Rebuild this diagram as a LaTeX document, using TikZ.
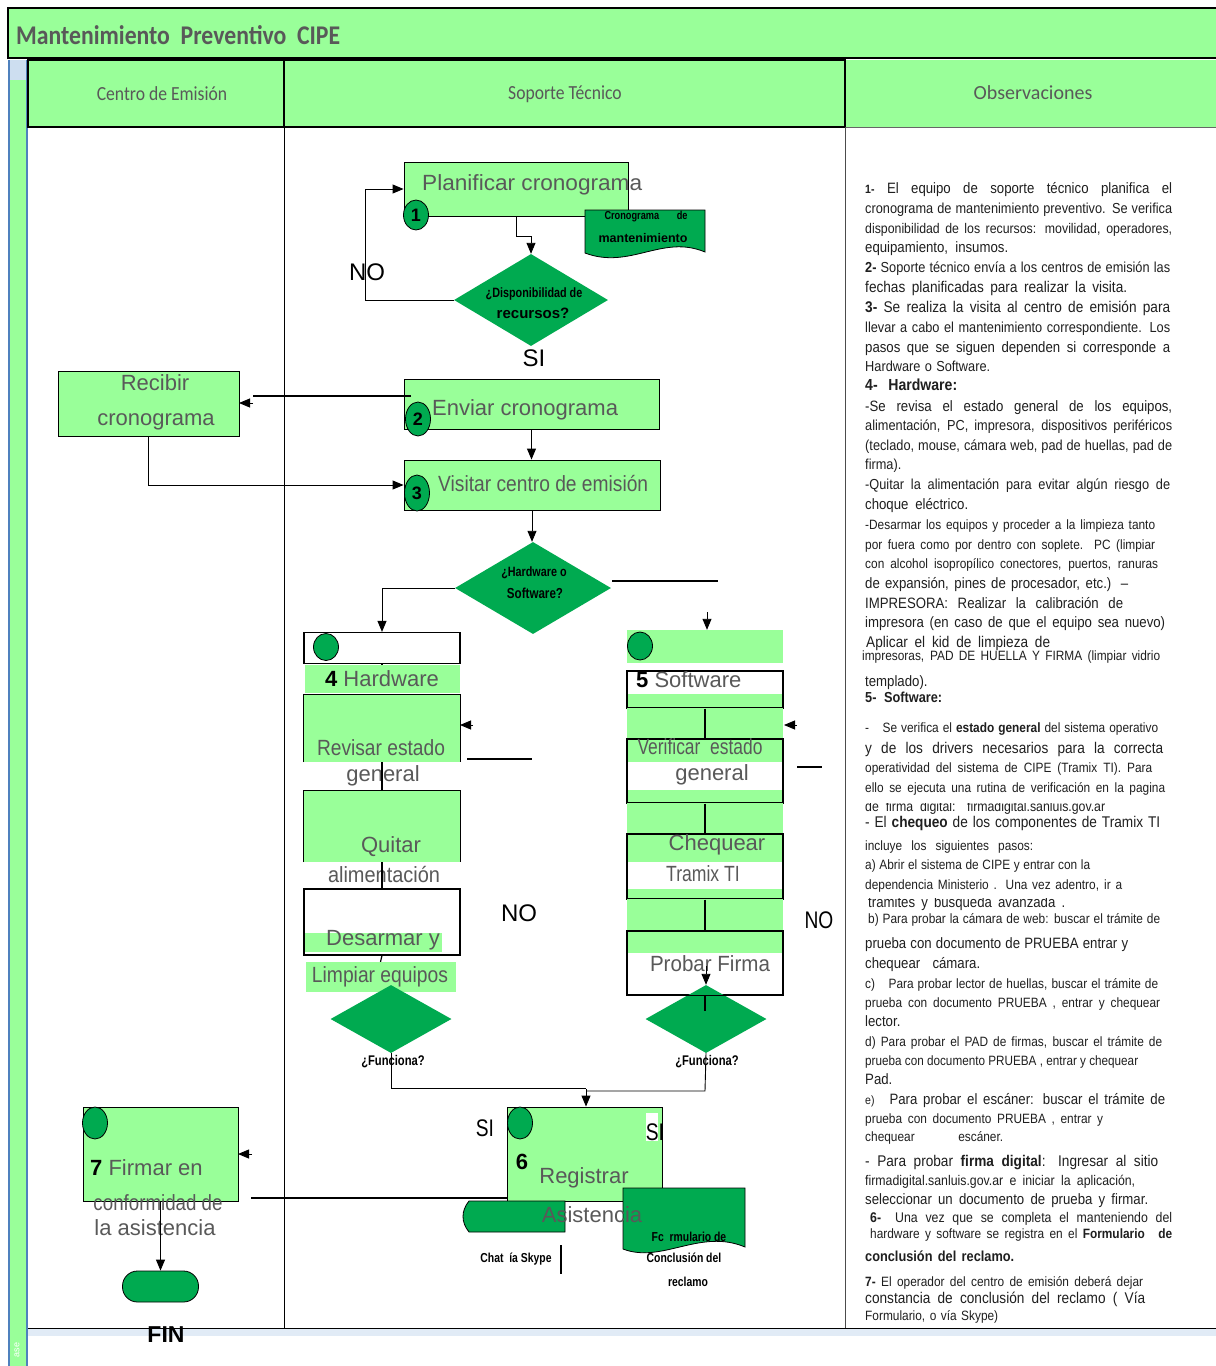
\documentclass[tikz,border=0pt]{standalone}
\usepackage{fontspec}
\usepackage{graphicx}
\setmainfont{Liberation Sans}
\newfontfamily\carl{Carlito}
\newfontfamily\carlc[FakeStretch=0.88]{Carlito}
\newfontfamily\narrowf[FakeStretch=0.80]{Liberation Sans}
\newfontfamily\obsf[FakeStretch=0.88]{Liberation Sans}
\usetikzlibrary{shapes.geometric,arrows.meta}
\definecolor{lg}{RGB}{153,255,153}
\definecolor{dg}{RGB}{0,170,80}
\definecolor{tg}{RGB}{89,89,89}
\definecolor{lb}{RGB}{79,129,189}
\definecolor{lbf}{RGB}{205,222,240}
\newsavebox\obsbox
\newdimen\obwid
\newcounter{obc}
\newcommand\justl[2]{\sbox\obsbox{#2}\ifdim\wd\obsbox>#1\relax\resizebox{#1}{\height}{#2}\else\makebox[#1][s]{#2}\fi}
\newcommand\fitw[2]{\resizebox{#1}{\height}{#2}}
\newcommand\obline[5]{\stepcounter{obc}\node[anchor=base west, inner sep=0, text=black!88, font=\obsf\fontsize{#4}{#4}\selectfont] (ob\arabic{obc}) at (#2,#1+5) {\obwid=\dimexpr#3pt-#2pt\relax\justl{\obwid}{#5}};}
\newcommand\obplain[4]{\stepcounter{obc}\node[anchor=base west, inner sep=0, text=black!88, font=\obsf\fontsize{#3}{#3}\selectfont] (ob\arabic{obc}) at (#2,#1+5) {#4};}
\begin{document}
\begin{tikzpicture}[x=1pt,y=-1pt,
 arr/.style={-{Triangle[length=11pt,width=9pt]}, line width=0.9pt},
 lbl/.style={text=tg, inner sep=0, font=\fontsize{22}{24}\selectfont},
 nlbl/.style={text=tg, inner sep=0, font=\narrowf\fontsize{22}{24}\selectfont},
 circ/.style={ellipse, draw, fill=dg, line width=0.8pt, inner sep=0, font=\bfseries\fontsize{18}{20}\selectfont},
 proc/.style={draw, fill=lg, line width=0.9pt, inner sep=0},
 wbox/.style={draw, fill=white, line width=1.2pt, inner sep=0},
 band/.style={fill=lg, inner sep=0},
 dia/.style={diamond, fill=dg, inner sep=0},
 dtxt/.style={inner sep=0, font=\narrowf\bfseries\fontsize{14}{16}\selectfont},
 big/.style={inner sep=0, font=\fontsize{24}{26}\selectfont}]
\useasboundingbox (0,0) rectangle (1216,1366);
\fill[white] (0,0) rectangle (1216,1366);

% title bar
\fill[lg] (8,8) rectangle (1216,58);
\draw[line width=2pt] (1216,8) -- (8,8) -- (8,58) -- (1216,58);
\node[anchor=west, inner sep=0, text=tg, font=\carlc\bfseries\fontsize{27}{30}\selectfont] (title) at (16,35) {\fitw{324pt}{Mantenimiento\ \ Preventivo\ \ CIPE}};

% left strip
\fill[lbf] (9,60) rectangle (27,80);
\fill[lg] (10,80) rectangle (26,1366);
\draw[lb, line width=1.6pt] (9,60) -- (9,1366) (27,60) -- (27,1366);
\node[rotate=90, text=white, inner sep=0, font=\fontsize{9}{10}\selectfont] (ase) at (17,1350) {ase};

% header row
\fill[lg] (28,60) rectangle (1216,127);
\draw[black!60] (845,127) -- (1216,127);
\draw[line width=2pt] (28,60) rectangle (845,127);
\draw[line width=2pt] (284,60) -- (284,127);
\node[text=tg, inner sep=0, font=\carlc\fontsize{20}{22}\selectfont] (h1) at (162,94) {Centro de Emisión};
\node[text=tg, inner sep=0, font=\carlc\fontsize{20}{22}\selectfont] (h2) at (565,94) {Soporte Técnico};
\node[text=tg, inner sep=0, font=\carl\fontsize{20}{22}\selectfont] (h3) at (1033,93) {Observaciones};

% lanes
\draw[line width=0.9pt] (284,127) -- (284,1328);
\draw[black!70, line width=0.8pt] (845,127) -- (845,1328);
\fill[lbf!60] (28,1329) rectangle (1216,1336);
\draw[line width=0.9pt] (28,1328) -- (1216,1328);

% ---- step 1
\node[proc, minimum width=224, minimum height=54] (plan) at (516,189) {};
\node[lbl, anchor=west] (plant) at (422,185) {\fitw{220pt}{Planificar cronograma}};
\node[circ, minimum width=25, minimum height=30] (c1) at (416,215) {1};
\draw[fill=dg, line width=0.8pt] (585,210) -- (705,210) -- (705,252) .. controls (662,234) and (630,270) .. (585,253) -- cycle;
\node[inner sep=0, font=\narrowf\bfseries\fontsize{11.5}{12}\selectfont] (doc1a) at (646,217) {\makebox[83pt][s]{Cronograma de}};
\node[inner sep=0, font=\bfseries\fontsize{12.5}{14}\selectfont] (doc1b) at (643,238) {mantenimiento};

\node[dia, minimum width=154, minimum height=92] (d1) at (531,300) {};
\node[dtxt, font=\narrowf\bfseries\fontsize{13.5}{15}\selectfont] (d1t) at (534,294) {¿Disponibilidad de};
\node[inner sep=0, font=\bfseries\fontsize{15}{16}\selectfont] (d1t2) at (533,313) {recursos?};
\draw[arr] (plan.south) -- ++(0,20) -| (d1.north);
\draw[arr] (d1.west) -- (365,300) |- (plan.west);
\node[big] (no1) at (367,272) {NO};
\node[big] (si1) at (534,358) {SI};

% ---- step 2
\node[proc, minimum width=255, minimum height=50] (env) at (531.5,404) {};
\node[lbl, anchor=west] (envt) at (432,410) {Enviar cronograma};
\node[circ, minimum width=25, minimum height=34] (c2) at (418,419) {2};
\node[proc, minimum width=181, minimum height=65] (rec) at (148.5,403.5) {};
\node[lbl] (rect1) at (155,383) {Recibir};
\node[lbl] (rect2) at (156,422) {cronograma};
\coordinate (envl) at (411,396);
\coordinate (thk) at (253,396);
\coordinate (tipa) at (253,403);
\coordinate (tipb) at (239,403);
\draw[line width=2.6pt] (envl) -- (thk);
\draw[arr] (tipa) -- (tipb);

% ---- step 3
\node[proc, minimum width=256, minimum height=50] (vis) at (532,485) {};
\node[lbl, anchor=west] (vist) at (438,484) {\fitw{210pt}{Visitar centro de emisión}};
\node[circ, minimum width=25, minimum height=36] (c3) at (417,493) {3};
\draw[arr] (env.south) -- (env.south |- vis.north);
\draw[arr] (rec.south) |- (vis.west);

\node[dia, minimum width=156, minimum height=92] (d2) at (533,588) {};
\draw[arr] (vis.south) -- (vis.south |- d2.north);
\node[dtxt, font=\narrowf\bfseries\fontsize{13.5}{15}\selectfont] (d2t) at (534,573) {¿Hardware o};
\node[dtxt, font=\narrowf\bfseries\fontsize{14.5}{16}\selectfont] (d2t2) at (535,593) {Software?};

% ---- hardware column
\node[wbox, minimum width=156, minimum height=31] (hw0) at (382,648) {};
\draw[arr] (d2.west) -| (hw0.north);
\node[circ, minimum width=25, minimum height=27] (c4) at (326,647) {};
\node[band, minimum width=155, minimum height=28] (hwb) at (382,679) {};
\draw[line width=1.2pt] (hw0.south) -- (hwb.north);
\node[inner sep=0, font=\fontsize{22}{24}\selectfont] (hwt) at (382,679) {\textbf{4} \textcolor{tg}{Hardware}};

\node[band, minimum width=156, minimum height=67] (hw1) at (382,728.5) {};
\draw[line width=1.2pt] (hw1.south west) -- (hw1.north west) -- (hw1.north east) -- (hw1.south east);
\node[lbl] (hw1t) at (381,748) {\fitw{128pt}{Revisar estado}};
\node[lbl] (hw1t2) at (383,776) {general};
\node[band, minimum width=156, minimum height=71] (hw2) at (382,826.5) {};
\draw[line width=1.2pt] (hw2.south west) -- (hw2.north west) -- (hw2.north east) -- (hw2.south east);
\draw[line width=1.2pt] (hw1.south) -- (hw2.north);
\node[lbl] (hw2t) at (391,847) {Quitar};
\node[lbl] (hw2t2) at (384,874) {\fitw{112pt}{alimentación}};
\node[wbox, minimum width=156, minimum height=66] (hw3) at (382,922) {};
\draw[line width=1.2pt] (hw2.south) -- (hw3.north);
\fill[lg] (305,933) rectangle (442,952);
\node[lbl] (hw3t) at (383,940) {Desarmar y};
\node[band, minimum width=150, minimum height=30] (hwl) at (380.5,977) {};
\draw[line width=1.2pt] (hw3.south) -- (hwl.north);
\node[lbl] (hwlt) at (380,977) {\fitw{136pt}{Limpiar equipos}};
\node[dia, minimum width=121, minimum height=68] (dh) at (391,1019) {};
\node[dtxt] (dht) at (393,1062) {¿Funciona?};
\coordinate (hbend) at (391,1088);
\coordinate (hjoin) at (586,1088);
\draw[line width=0.9pt] (dh.south) -- (hbend) -- (hjoin);

\coordinate (hwa1) at (473,725); \coordinate (hwa2) at (460,725);
\draw[arr] (hwa1) -- (hwa2);
\coordinate (hwl1) at (467,759); \coordinate (hwl2) at (532,759);
\draw[line width=1.2pt] (hwl1) -- (hwl2);
\node[big] (no2) at (519,913) {NO};

% ---- software column
\node[band, minimum width=156, minimum height=33] (sw0) at (705,646.5) {};
\coordinate (swr1) at (612,581); \coordinate (swr2) at (718,581);
\draw[line width=1.2pt] (swr1) -- (swr2);
\coordinate (swa) at (707,612);
\draw[arr] (swa) -- (swa |- sw0.north);
\node[circ, minimum width=25, minimum height=28] (c5) at (640,646) {};
\node[wbox, minimum width=156, minimum height=37] (sw1) at (705,689.5) {};
\fill[lg] (628,694) rectangle (782,707);
\node[anchor=west, inner sep=0, font=\fontsize{22}{24}\selectfont] (sw1t) at (636,680) {\textbf{5} \textcolor{tg}{Software}};
\node[band, minimum width=156, minimum height=30] (swg1) at (705,723) {};
\node[wbox, minimum width=156, minimum height=64] (sw2) at (705,771) {};
\draw[line width=1.2pt] (sw1.south) -- (sw2.north);
\fill[lg] (628,740) rectangle (782,762);
\fill[lg] (628,790) rectangle (782,802);
\node[lbl] (sw2t) at (700,747) {\fitw{125pt}{Verificar\ \ estado}};
\node[lbl] (sw2t2) at (712,775) {general};
\node[band, minimum width=156, minimum height=30] (swg2) at (705,818) {};
\node[wbox, minimum width=156, minimum height=65] (sw3) at (705,866.5) {};
\draw[line width=1.2pt] (sw2.south) -- (sw3.north);
\fill[lg] (628,835) rectangle (782,862);
\fill[lg] (628,889) rectangle (782,898);
\node[lbl] (sw3t) at (717,845) {Chequear};
\node[nlbl] (sw3t2) at (703,874) {Tramix TI};
\node[band, minimum width=156, minimum height=31] (swg3) at (705,914.5) {};
\node[wbox, minimum width=156, minimum height=64] (sw4) at (705,963) {};
\draw[line width=1.2pt] (sw3.south) -- (sw4.north);
\fill[lg] (628,932) rectangle (782,953);
\node[lbl] (sw4t) at (710,964) {\fitw{120pt}{Probar\ Firma}};
\node[dia, minimum width=121, minimum height=68] (ds) at (706,1019) {};
\draw[line width=1.2pt] (sw4.south west) -- (sw4.south east);
\coordinate (swd) at (706,966);
\draw[arr] (swd) -- (ds.north);
\coordinate (swi1) at (705,995); \coordinate (swi2) at (705,1011);
\draw[line width=1.2pt] (swi1) -- (swi2);
\node[dtxt] (dst) at (707,1062) {¿Funciona?};
\coordinate (sbend) at (705,1091);
\coordinate (sjoin) at (586,1091);
\draw[line width=0.9pt] (ds.south) -- (sbend) -- (sjoin);

\coordinate (swa1) at (797,725); \coordinate (swa2) at (784,725);
\draw[arr] (swa1) -- (swa2);
\coordinate (swl1) at (797,767); \coordinate (swl2) at (822,767);
\draw[line width=1.2pt] (swl1) -- (swl2);
\node[inner sep=0, font=\narrowf\fontsize{24}{26}\selectfont] (no3) at (819,920) {NO};

% ---- step 6
\node[proc, minimum width=155, minimum height=94] (reg) at (585,1154) {};
\coordinate (regin) at (586,1089);
\draw[arr] (regin) -- (regin |- reg.north);
\node[circ, minimum width=25, minimum height=32] (c6) at (520,1123) {};
\node[inner sep=0, font=\bfseries\fontsize{22}{24}\selectfont] (reg6) at (522,1162) {6};
\node[lbl] (regt) at (584,1178) {Registrar};
\draw[fill=dg, line width=0.8pt] (469,1201) -- (565,1201) -- (565,1232) -- (469,1232) .. controls (461,1222) and (461,1211) .. (469,1201) -- cycle;
\draw[fill=dg, line width=0.8pt] (623,1188) -- (745,1188) -- (745,1247) .. controls (700,1228) and (662,1264) .. (623,1249) -- cycle;
\node[lbl] (regt2) at (592,1215) {Asistencia};
\node[inner sep=0, font=\narrowf\bfseries\fontsize{13}{14}\selectfont] (formt1) at (689,1237) {Fc\ \ rmulario de};
\node[inner sep=0, font=\narrowf\bfseries\fontsize{13}{14}\selectfont] (formt2) at (684,1258) {Conclusión del};
\node[inner sep=0, font=\narrowf\bfseries\fontsize{13}{14}\selectfont] (formt3) at (688,1282) {reclamo};
\node[inner sep=0, font=\narrowf\bfseries\fontsize{13}{14}\selectfont] (chat) at (516,1259) {Chat\ \ ía Skype};
\coordinate (bar1) at (561,1245); \coordinate (bar2) at (561,1274);
\draw[line width=1.8pt] (bar1) -- (bar2);
\node[inner sep=0, font=\narrowf\fontsize{24}{26}\selectfont] (si2) at (485,1128) {SI};
\fill[white] (646,1113) rectangle (658,1141);
\node[inner sep=0, font=\narrowf\fontsize{24}{26}\selectfont] (si3) at (655,1132) {SI};

% ---- step 7
\node[proc, minimum width=155, minimum height=94] (fir) at (160.5,1154) {};
\node[circ, minimum width=25, minimum height=32] (c7) at (95,1123) {};
\node[anchor=west, inner sep=0, font=\fontsize{22}{24}\selectfont] (firt) at (90,1168) {\textbf{7} \textcolor{tg}{Firmar en}};
\node[lbl] (firt2) at (158,1203) {\fitw{129pt}{conformidad de}};
\node[lbl] (firt3) at (155,1228) {la asistencia};
\node[draw, fill=dg, line width=0.8pt, rounded corners=15pt, minimum width=76, minimum height=31, inner sep=0] (fin) at (160.5,1286.5) {};
\draw[arr] (fir.south) -- (fin.north);
\node[inner sep=0, font=\bfseries\fontsize{23}{25}\selectfont] (fint) at (166,1335) {FIN};
\coordinate (rl1) at (507,1198); \coordinate (rl2) at (251,1198);
\draw[line width=1.8pt] (rl1) -- (rl2);
\coordinate (fa1) at (252,1154); \coordinate (fa2) at (238,1154);
\draw[arr] (fa1) -- (fa2);

% ---- observations
\obline{188}{865}{1172}{15}{{\bfseries\fontsize{12}{12}\selectfont 1-} El equipo de soporte técnico planifica el}
\obline{208}{865}{1172}{14.5}{cronograma de mantenimiento preventivo. Se verifica}
\obline{228}{865}{1172}{14}{disponibilidad de los recursos: movilidad, operadores,}
\obline{247}{865}{1008}{15}{equipamiento, insumos.}
\obline{267}{865}{1170}{14.5}{{\bfseries 2-} Soporte técnico envía a los centros de emisión las}
\obline{287}{865}{1127}{15.5}{fechas planificadas para realizar la visita.}
\obline{307}{865}{1170}{15.5}{{\bfseries 3-} Se realiza la visita al centro de emisión para}
\obline{327}{865}{1170}{14.5}{llevar a cabo el mantenimiento correspondiente. Los}
\obline{347}{865}{1170}{15}{pasos que se siguen dependen si corresponde a}
\obline{366}{865}{990}{14.5}{Hardware o Software.}
\obline{385}{865}{957}{16}{\bfseries 4- Hardware:}
\obline{406}{865}{1172}{15}{-Se revisa el estado general de los equipos,}
\obline{425}{865}{1172}{14.5}{alimentación, PC, impresora, dispositivos periféricos}
\obline{445}{865}{1172}{14.5}{(teclado, mouse, cámara web, pad de huellas, pad de}
\obplain{464}{865}{14.5}{firma).}
\obline{484}{865}{1170}{14.5}{-Quitar la alimentación para evitar algún riesgo de}
\obline{504}{865}{968}{15}{choque eléctrico.}
\obline{524}{865}{1155}{13.5}{-Desarmar los equipos y proceder a la limpieza tanto}
\obline{544}{865}{1155}{13.5}{por fuera como por dentro con soplete. PC (limpiar}
\obline{563}{865}{1158}{13.5}{con alcohol isopropílico conectores, puertos, ranuras}
\obline{583}{865}{1128}{15}{de expansión, pines de procesador, etc.) –}
\obline{603}{865}{1123}{15}{IMPRESORA: Realizar la calibración de}
\obline{622}{865}{1165}{15}{impresora (en caso de que el equipo sea nuevo)}
\obline{642}{866}{1050}{15.5}{Aplicar el kid de limpieza de}
\obline{655}{862}{1160}{13.5}{impresoras, PAD DE HUELLA Y FIRMA (limpiar vidrio}
\obplain{681}{865}{15}{templado).}
\obline{697}{865}{942}{14.5}{\bfseries 5- Software:}
\obline{727}{865}{1158}{13.5}{-\quad Se verifica el \textbf{estado general} del sistema operativo}
\obline{748}{865}{1163}{15.5}{y de los drivers necesarios para la correcta}
\obline{767}{865}{1152}{13.5}{operatividad del sistema de CIPE (Tramix TI). Para}
\obline{787}{865}{1165}{13.5}{ello se ejecuta una rutina de verificación en la pagina}
\begin{scope}
\clip (850,803) rectangle (1216,815);
\obline{806}{865}{1105}{14}{de firma digital: firmadigital.sanluis.gov.ar}
\end{scope}
\obline{822}{865}{1160}{15.5}{- El \textbf{chequeo} de los componentes de Tramix TI}
\obline{845}{865}{1033}{13.5}{incluye los siguientes pasos:}
\obline{864}{865}{1090}{13.5}{a) Abrir el sistema de CIPE y entrar con la}
\obline{884}{865}{1122}{13.5}{dependencia Ministerio . Una vez adentro, ir a}
\begin{scope}
\clip (850,898) rectangle (1216,911);
\obline{902}{868}{1065}{15}{tramites y busqueda avanzada .}
\end{scope}
\obline{918}{868}{1160}{13.5}{b) Para probar la cámara de web: buscar el trámite de}
\obline{943}{865}{1128}{15}{prueba con documento de PRUEBA entrar y}
\obline{963}{865}{980}{15}{chequear cámara.}
\obline{983}{865}{1158}{13.5}{c)\quad Para probar lector de huellas, buscar el trámite de}
\obline{1002}{865}{1160}{13.5}{prueba con documento PRUEBA , entrar y chequear}
\obplain{1021}{865}{15}{lector.}
\obline{1041}{865}{1162}{13.5}{d) Para probar el PAD de firmas, buscar el trámite de}
\obline{1060}{865}{1138}{13.5}{prueba con documento PRUEBA , entrar y chequear}
\obplain{1079}{865}{15}{Pad.}
\obline{1099}{865}{1165}{15}{{\fontsize{12}{12}\selectfont e)}\quad Para probar el escáner: buscar el trámite de}
\obline{1118}{865}{1103}{13.5}{prueba con documento PRUEBA , entrar y}
\obline{1136}{865}{1003}{13.5}{chequear escáner.}
\obline{1161}{865}{1158}{15.5}{- Para probar \textbf{firma digital}: Ingresar al sitio}
\obline{1180}{865}{1135}{14}{firmadigital.sanluis.gov.ar e iniciar la aplicación,}
\obline{1199}{865}{1148}{15}{seleccionar un documento de prueba y firmar.}
\obline{1217}{870}{1172}{14}{\textbf{6-}\quad Una vez que se completa el manteniendo del}
\obline{1233}{870}{1172}{13.5}{hardware y software se registra en el \textbf{Formulario\quad de}}
\obline{1256}{865}{1014}{14.5}{\bfseries conclusión del reclamo.}
\obline{1281}{865}{1143}{13.5}{\textbf{7-} El operador del centro de emisión deberá dejar}
\obline{1298}{865}{1145}{15.5}{constancia de conclusión del reclamo ( Vía}
\obline{1315}{865}{998}{13.5}{Formulario, o vía Skype)}
\end{tikzpicture}
\end{document}
